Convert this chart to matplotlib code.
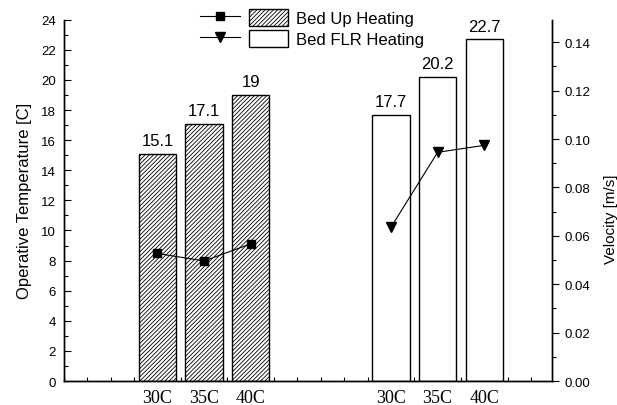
import matplotlib
matplotlib.use("Agg")
import matplotlib.pyplot as plt
import numpy as np
from matplotlib.legend_handler import HandlerTuple
from matplotlib.ticker import MultipleLocator

plt.rcParams["font.family"] = ["Liberation Sans", "DejaVu Sans"]
plt.rcParams["hatch.linewidth"] = 0.6

temps = ["30C", "35C", "40C"]
up_temp = [15.1, 17.1, 19.0]
flr_temp = [17.7, 20.2, 22.7]
up_vel = [0.0527, 0.0496, 0.0567]
flr_vel = [0.0635, 0.0945, 0.0974]
series_names = ["Bed Up Heating", "Bed FLR Heating"]

x_up = np.arange(len(temps)) + 2
x_flr = np.arange(len(temps)) + 7

fig = plt.figure(figsize=(6.17, 4.06), dpi=100)
ax = fig.add_axes([0.1037, 0.0591, 0.7910, 0.8899])
ax2 = ax.twinx()

bars_up = ax.bar(x_up, up_temp, width=0.8, facecolor="white", edgecolor="black",
                 linewidth=1.0, hatch="////////")
bars_flr = ax.bar(x_flr, flr_temp, width=0.8, facecolor="white", edgecolor="black",
                  linewidth=1.0)
for bars, vals in ((bars_up, up_temp), (bars_flr, flr_temp)):
    ax.bar_label(bars, labels=[f"{v:g}" for v in vals], padding=4, fontsize=12)

line_up, = ax2.plot(x_up, up_vel, color="black", linewidth=0.8, marker="s",
                    markersize=5.5)
line_flr, = ax2.plot(x_flr, flr_vel, color="black", linewidth=0.8, marker="v",
                     markersize=7)

ax.set_xlim(0, 10.45)
ax.set_ylim(0, 24)
ax2.set_ylim(0, 0.1493)

ax.set_xticks(np.concatenate([x_up, x_flr]))
ax.set_xticklabels(temps + temps, fontfamily="Liberation Serif", fontsize=13)
ax.xaxis.set_minor_locator(MultipleLocator(0.5))
ax.tick_params(axis="x", which="major", length=0, pad=6)
ax.tick_params(axis="x", which="minor", direction="in", length=3, width=0.8)

ax.yaxis.set_major_locator(MultipleLocator(2))
ax.yaxis.set_minor_locator(MultipleLocator(1))
ax.tick_params(axis="y", which="major", direction="in", length=5, width=0.8,
               labelsize=9.5, pad=6)
ax.tick_params(axis="y", which="minor", direction="in", length=3, width=0.8)

ax2.set_yticks(np.arange(0, 0.141, 0.02))
ax2.set_yticklabels([f"{t:.2f}" for t in np.arange(0, 0.141, 0.02)])
ax2.yaxis.set_minor_locator(MultipleLocator(0.01))
ax2.tick_params(axis="y", which="major", direction="out", length=5, width=0.8,
                labelsize=9.5, pad=4)
ax2.tick_params(axis="y", which="minor", direction="out", length=3, width=0.8)

for a in (ax, ax2):
    a.spines["top"].set_visible(False)
    for side in ("left", "right", "bottom"):
        a.spines[side].set_linewidth(1.0)

ax.set_ylabel("Operative Temperature [C]", fontsize=12, labelpad=6)
ax2.set_ylabel("Velocity [m/s]", fontsize=11, labelpad=10)
ax2.yaxis.label.set_y(0.45)

fig.legend(
    [(line_up, bars_up), (line_flr, bars_flr)],
    series_names,
    handler_map={tuple: HandlerTuple(ndivide=None, pad=0.55)},
    loc="upper left",
    bbox_to_anchor=(200 / 617, 1 - 10 / 406),
    borderpad=0,
    borderaxespad=0,
    frameon=False,
    fontsize=12,
    handlelength=5.3,
    handleheight=1.15,
    handletextpad=0.45,
    labelspacing=0.25,
)

fig.savefig("out.png", dpi=100)
